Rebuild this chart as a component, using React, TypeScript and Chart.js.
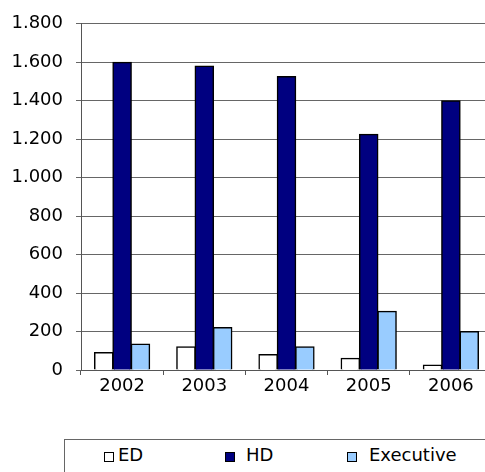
import React, { useEffect, useRef } from "react";
import { Chart, registerables } from "chart.js";

Chart.register(...registerables);

const categories = ["2002", "2003", "2004", "2005", "2006"];
const edValues = [90, 120, 80, 60, 25];
const hdValues = [1600, 1580, 1525, 1225, 1400];
const execValues = [135, 220, 120, 305, 200];
const seriesNames = ["ED", "HD", "Executive"];
const seriesColors = ["#FFFFFF", "#000080", "#99CCFF"];

const FONT = "'DejaVu Sans', sans-serif";

function fmt(v: number): string {
  return String(Math.round(v)).replace(/\B(?=(\d{3})+(?!\d))/g, ".");
}

export default function App() {
  const ref = useRef<HTMLCanvasElement | null>(null);

  useEffect(() => {
    if (!ref.current) return;
    const values = [edValues, hdValues, execValues];
    const chart = new Chart(ref.current, {
      type: "bar",
      data: {
        labels: categories,
        datasets: seriesNames.map((name, i) => ({
          label: name,
          data: values[i],
          backgroundColor: seriesColors[i],
          borderColor: "#000000",
          borderWidth: 1.5,
          inflateAmount: 0.6,
          barPercentage: 1,
          categoryPercentage: 0.67,
        })),
      },
      options: {
        responsive: false,
        animation: false,
        devicePixelRatio: 1,
        layout: { padding: { top: 21, right: 8, left: 0, bottom: 0 } },
        plugins: { legend: { display: false }, tooltip: { enabled: false } },
        scales: {
          x: {
            offset: true,
            grid: {
              display: true,
              drawOnChartArea: false,
              drawTicks: true,
              tickLength: 5,
              color: "#555555",
              offset: true,
            },
            border: { display: true, color: "#555555", width: 1 },
            ticks: {
              color: "#000000",
              font: { family: FONT, size: 18 },
              padding: 1,
              maxRotation: 0,
            },
            afterFit: (scale: any) => {
              scale.height = 30;
            },
          },
          y: {
            min: 0,
            max: 1800,
            ticks: {
              stepSize: 200,
              color: "#000000",
              font: { family: FONT, size: 18 },
              padding: 13,
              callback: (v: any) => fmt(Number(v)),
            },
            grid: { color: "#666666", lineWidth: 1, tickLength: 5 },
            border: { display: true, color: "#555555", width: 1 },
            afterFit: (scale: any) => {
              scale.width = 81;
            },
          },
        },
      },
    });
    return () => chart.destroy();
  }, []);

  const legendX = [104, 225, 347];
  const textX = [118, 246, 369];

  return (
    <div
      style={{
        position: "absolute",
        left: 0,
        top: 0,
        width: 485,
        height: 472,
        overflow: "hidden",
        background: "#ffffff",
      }}
    >
      <canvas
        ref={ref}
        width={500}
        height={400}
        style={{ position: "absolute", left: 0, top: 0, width: 500, height: 400 }}
      />
      <div
        style={{
          position: "absolute",
          left: 64,
          top: 439,
          width: 440,
          height: 60,
          border: "1px solid #666666",
          boxSizing: "border-box",
        }}
      />
      {seriesNames.map((name, i) => (
        <React.Fragment key={name}>
          <div
            style={{
              position: "absolute",
              left: legendX[i],
              top: 452,
              width: 8,
              height: 8,
              border: "1px solid #000",
              background: seriesColors[i],
            }}
          />
          <div
            style={{
              position: "absolute",
              left: textX[i],
              top: 444,
              fontFamily: FONT,
              fontSize: 18,
              lineHeight: "22px",
              color: "#000",
              whiteSpace: "nowrap",
            }}
          >
            {name}
          </div>
        </React.Fragment>
      ))}
    </div>
  );
}
